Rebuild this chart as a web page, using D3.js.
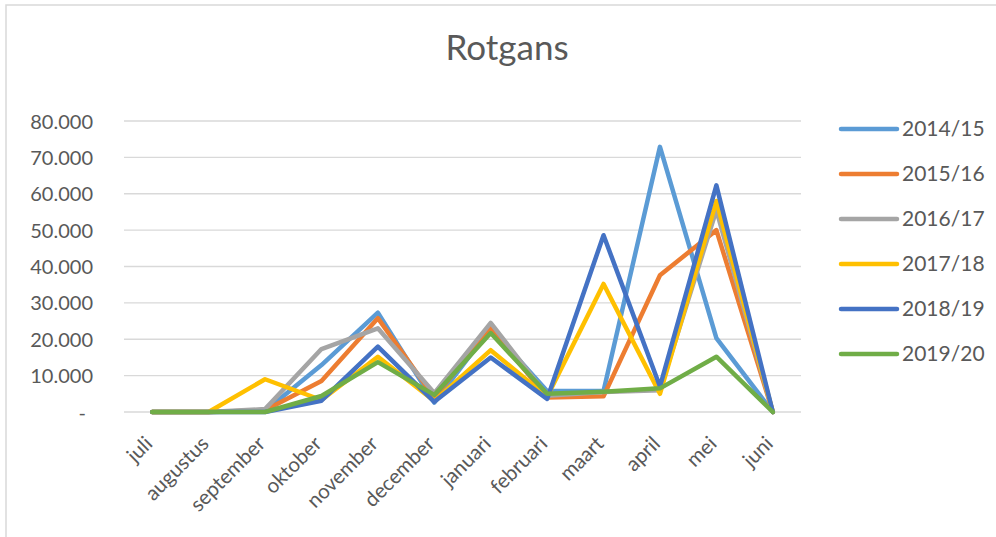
<!DOCTYPE html>
<html>
<head>
<meta charset="utf-8">
<script src="https://cdn.jsdelivr.net/npm/d3@7"></script>
<style>
  body { margin: 0; background: #fff; }
  text { font-family: Lato, "Open Sans", sans-serif; fill: #595959; }
</style>
</head>
<body>
<svg width="996" height="537"></svg>
<script>
const months = ["juli", "augustus", "september", "oktober", "november", "december",
  "januari", "februari", "maart", "april", "mei", "juni"];
const seasons = ["2014/15", "2015/16", "2016/17", "2017/18", "2018/19", "2019/20"];
const colors = ["#5B9BD5", "#ED7D31", "#A5A5A5", "#FFC000", "#4472C4", "#70AD47"];

const s2014 = [0, 0, 300, 12900, 27300, 2600, 23000, 5800, 5800, 72900, 20300, 0];
const s2015 = [0, 0, 500, 8500, 25800, 4000, 23000, 4000, 4300, 37600, 50000, 0];
const s2016 = [0, 0, 800, 17300, 23000, 5200, 24500, 4500, 5500, 6000, 55500, 0];
const s2017 = [0, 0, 9000, 3300, 15200, 3000, 17000, 4200, 35200, 5000, 58000, 0];
const s2018 = [0, 0, 0, 3100, 18000, 2800, 15000, 3600, 48600, 7000, 62300, 0];
const s2019 = [0, 0, 0, 4400, 13700, 4700, 21700, 5000, 5600, 6500, 15200, 0];
const values = [s2014, s2015, s2016, s2017, s2018, s2019];

const yTicks = d3.range(0, 80001, 10000);

const svg = d3.select("svg");
const margin = { top: 121, left: 124, right: 195, bottom: 125 };
const width = 996 - margin.left - margin.right;
const height = 537 - margin.top - margin.bottom;

// chart border
svg.append("rect")
  .attr("x", 6).attr("y", 5)
  .attr("width", 1000).attr("height", 1000)
  .attr("fill", "none")
  .attr("stroke", "#d9d9d9")
  .attr("stroke-width", 1.5);

svg.append("text")
  .attr("x", 507)
  .attr("y", 60)
  .attr("text-anchor", "middle")
  .attr("font-size", "35px")
  .text("Rotgans");

const g = svg.append("g").attr("transform", `translate(${margin.left},${margin.top})`);

const x = d3.scalePoint().domain(months).range([0, width]).padding(0.5);
const y = d3.scaleLinear().domain([0, 80000]).range([height, 0]);

// gridlines
g.selectAll(".grid")
  .data(yTicks)
  .enter()
  .append("line")
  .attr("class", "grid")
  .attr("x1", 0).attr("x2", width)
  .attr("y1", (d) => y(d)).attr("y2", (d) => y(d))
  .attr("stroke", "#d9d9d9")
  .attr("stroke-width", 1.3);

const fmt = (d) => (d === 0 ? "-" : d3.format(",")(d).replace(/,/g, "."));

const yAxis = g.append("g")
  .call(d3.axisLeft(y).tickValues(yTicks).tickFormat(fmt).tickSize(0).tickPadding(31));
yAxis.select(".domain").remove();
yAxis.selectAll("text")
  .attr("font-size", "20px")
  .attr("font-family", "Lato, sans-serif")
  .attr("fill", "#595959")
  .attr("dy", "0.35em")
  .attr("dx", (d) => (d === 0 ? -7 : 0));

const xAxis = g.append("g")
  .attr("transform", `translate(0,${height})`)
  .call(d3.axisBottom(x).tickSize(0).tickPadding(0));
xAxis.select(".domain").remove();
xAxis.selectAll("text")
  .attr("font-size", "20.5px")
  .attr("font-family", "Lato, sans-serif")
  .attr("fill", "#595959")
  .attr("text-anchor", "end")
  .attr("dy", "0")
  .attr("transform", "translate(1,33) rotate(-45)");

const line = d3.line()
  .x((d, i) => x(months[i]))
  .y((d) => y(d));

g.selectAll(".series")
  .data(values)
  .enter()
  .append("path")
  .attr("class", "series")
  .attr("fill", "none")
  .attr("stroke", (d, i) => colors[i])
  .attr("stroke-width", 4.5)
  .attr("stroke-linejoin", "round")
  .attr("stroke-linecap", "round")
  .attr("d", line);

// legend
const legend = svg.append("g").attr("transform", "translate(841,129)");
const item = legend.selectAll(".item")
  .data(seasons)
  .enter()
  .append("g")
  .attr("class", "item")
  .attr("transform", (d, i) => `translate(0,${i * 45})`);
item.append("line")
  .attr("x1", 0).attr("x2", 56)
  .attr("stroke", (d, i) => colors[i])
  .attr("stroke-width", 4.5)
  .attr("stroke-linecap", "round");
item.append("text")
  .attr("x", 61)
  .attr("dy", "0.35em")
  .attr("font-size", "21px")
  .text((d) => d);
</script>
</body>
</html>
